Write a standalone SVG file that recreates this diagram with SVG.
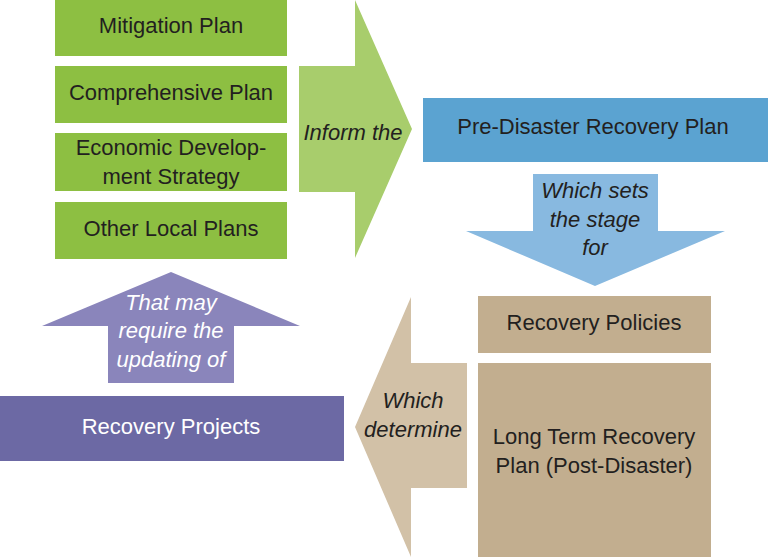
<svg xmlns="http://www.w3.org/2000/svg" width="768" height="557" viewBox="0 0 768 557">
<style>
text{font-family:"Liberation Sans",Arial,sans-serif;font-size:22px;text-anchor:middle;fill:#231f20}
.it{font-style:italic}
.w{fill:#ffffff}
.g{fill:#8dbf42}
.ga{fill:#a8cd6c}
.b{fill:#5ba3d1}
.ba{fill:#88b9e0}
.p{fill:#6c69a4}
.pa{fill:#8a85bb}
.t{fill:#c2ae8f}
.ta{fill:#d2c1a7}
</style>
<rect width="768" height="557" fill="#ffffff"/>
<g id="connectors">
<g id="arrow-inform"><polygon class="ga" points="299,66 355,66 355,0 412,129 355,258 355,192 299,192"/><text class="it" x="353" y="140">Inform the</text></g>
<g id="arrow-sets-stage"><polygon class="ba" points="533,174 658,174 658,231 725,231 595,286 466,231 533,231"/><text class="it" x="595" y="198">Which sets</text><text class="it" x="595" y="227">the stage</text><text class="it" x="595" y="255">for</text></g>
<g id="arrow-determine"><polygon class="ta" points="467,363 467,488 411,488 411,557 355,427 411,297 411,363"/><text class="it" x="413" y="408">Which</text><text class="it" x="413" y="437">determine</text></g>
<g id="arrow-updating"><polygon class="pa" points="108,383 234,383 234,326 300,326 171,272 42,326 108,326"/><text class="it w" x="171" y="310">That may</text><text class="it w" x="171" y="338">require the</text><text class="it w" x="171" y="367">updating of</text></g>
</g>
<g id="mitigation-plan"><rect class="g" x="55" y="0" width="232" height="56"/><text x="171" y="33">Mitigation Plan</text></g>
<g id="comprehensive-plan"><rect class="g" x="55" y="66" width="232" height="57"/><text x="171" y="100">Comprehensive Plan</text></g>
<g id="economic-development"><rect class="g" x="55" y="133" width="232" height="58"/><text x="171" y="155">Economic Develop-</text><text x="171" y="184">ment Strategy</text></g>
<g id="other-local-plans"><rect class="g" x="55" y="202" width="232" height="57"/><text x="171" y="236">Other Local Plans</text></g>
<g id="pre-disaster"><rect class="b" x="423" y="98" width="345" height="64"/><text x="593" y="134">Pre-Disaster Recovery Plan</text></g>
<g id="recovery-policies"><rect class="t" x="478" y="296" width="233" height="57"/><text x="594" y="330">Recovery Policies</text></g>
<g id="long-term"><rect class="t" x="478" y="363" width="233" height="194"/><text x="594" y="444">Long Term Recovery</text><text x="594" y="473">Plan (Post-Disaster)</text></g>
<g id="recovery-projects"><rect class="p" x="0" y="396" width="344" height="65"/><text class="w" x="171" y="434">Recovery Projects</text></g>
</svg>
